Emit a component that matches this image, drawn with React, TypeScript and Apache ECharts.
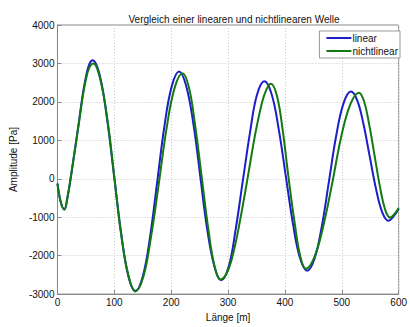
import React, { useEffect, useRef } from "react";
import * as echarts from "echarts";

const titleText = "Vergleich einer linearen und nichtlinearen Welle";
const xName = "Länge [m]";
const yName = "Amplitude [Pa]";
const seriesNames = ["linear", "nichtlinear"];

const linearX = [0, 6, 12, 18, 23, 30, 37, 44, 50, 56, 62, 74.5, 87, 99.5, 112, 124.5, 137, 150, 163, 175.5, 188, 201, 214, 226, 239, 251, 263, 276, 288, 301, 313, 326, 339, 351, 364, 376.5, 389, 401.5, 414, 426.5, 439, 452, 465, 477.5, 490, 503, 516, 527, 538, 549, 560, 571, 582, 591, 600];
const linearY = [-125, -620, -800, -450, 0, 700, 1400, 2150, 2650, 2980, 3080, 2680, 1580, 80, -1420, -2520, -2920, -2540, -1490, -65, 1360, 2410, 2790, 2430, 1430, 75, -1280, -2280, -2640, -2290, -1350, -50, 1240, 2190, 2535, 2205, 1300, 70, -1160, -2060, -2390, -2080, -1225, -60, 1105, 1960, 2270, 2045, 1430, 590, -250, -865, -1090, -980, -780];

const nonlinX = [0, 6, 12, 18, 23, 30, 37, 44, 50, 56, 63, 75, 88, 100, 112, 125, 137, 151, 164.5, 178.5, 192, 206, 220, 231, 242, 253.5, 265, 276, 287, 300, 312, 324, 336, 348, 360, 368, 375.5, 386, 396, 406, 417, 427, 437, 452, 468, 484, 499, 515, 530, 539, 548, 557.5, 567, 576, 585, 592, 600];
const nonlinY = [-125, -620, -800, -450, 0, 680, 1380, 2100, 2580, 2890, 3000, 2600, 1520, 35, -1450, -2530, -2930, -2550, -1510, -92, 1326, 2365, 2745, 2386, 1404, 62, -1279, -2261, -2620, -2380, -1750, -850, 160, 1180, 2000, 2340, 2475, 2152, 1271, 68, -1136, -2018, -2340, -2033, -1195, -50, 1095, 1933, 2240, 2022, 1427, 615, -198, -793, -1010, -930, -760];

const FONT = "'Liberation Sans', Arial, sans-serif";

export default function App() {
  const ref = useRef<HTMLDivElement>(null);
  useEffect(() => {
    if (!ref.current) return;
    const chart = echarts.init(ref.current, undefined, { renderer: "svg" });
    const pairs = (xs: number[], ys: number[]) => xs.map((x, i) => [x, ys[i]]);
    chart.setOption({
      animation: false,
      backgroundColor: "#ffffff",
      textStyle: { fontFamily: FONT },
      title: {
        text: titleText,
        left: 229,
        textAlign: "center",
        top: 9,
        textStyle: { fontSize: 10, fontWeight: "normal", color: "#111", fontFamily: FONT },
      },
      legend: {
        data: seriesNames,
        orient: "vertical",
        right: 10,
        top: 31,
        padding: [2, 2, 2, 6],
        itemGap: 3,
        itemWidth: 25,
        itemHeight: 10,
        itemStyle: { opacity: 0 },
        backgroundColor: "#ffffff",
        borderColor: "#999",
        borderWidth: 1,
        textStyle: { fontSize: 10, color: "#111", fontFamily: FONT, padding: [0, 0, 0, -4] },
      },
      grid: {
        left: 53,
        right: 6,
        top: 25,
        bottom: 24,
        show: true,
        borderColor: "#888",
        borderWidth: 1,
      },
      xAxis: {
        type: "value",
        min: 0,
        max: 600,
        interval: 100,
        name: xName,
        nameLocation: "middle",
        nameGap: 12,
        nameTextStyle: { fontSize: 10, color: "#111", fontFamily: FONT },
        axisLine: { show: true, onZero: false, lineStyle: { color: "#888" } },
        axisTick: { show: true, inside: true, length: 4, lineStyle: { color: "#888" } },
        axisLabel: { fontSize: 10, color: "#111", margin: 3, fontFamily: FONT, formatter: (v: number) => String(v) },
        splitLine: { show: true, lineStyle: { color: "#c8c8c8", type: [1, 2] } },
      },
      yAxis: {
        type: "value",
        min: -3000,
        max: 4000,
        interval: 1000,
        name: yName,
        nameLocation: "middle",
        nameGap: 30,
        nameTextStyle: { fontSize: 10, color: "#111", fontFamily: FONT },
        axisLine: { show: true, onZero: false, lineStyle: { color: "#888" } },
        axisTick: { show: true, inside: true, length: 4, lineStyle: { color: "#888" } },
        axisLabel: { fontSize: 10, color: "#111", margin: 3, fontFamily: FONT, formatter: (v: number) => String(v) },
        splitLine: { show: true, lineStyle: { color: "#c8c8c8", type: [1, 2] } },
      },
      series: [
        {
          name: seriesNames[0],
          type: "line",
          data: pairs(linearX, linearY),
          smooth: 0.4,
          symbol: "none",
          lineStyle: { color: "#1e1ec8", width: 2 },
          itemStyle: { color: "#1e1ec8" },
        },
        {
          name: seriesNames[1],
          type: "line",
          data: pairs(nonlinX, nonlinY),
          smooth: 0.4,
          symbol: "none",
          lineStyle: { color: "#117a11", width: 2 },
          itemStyle: { color: "#117a11" },
        },
      ],
    });
    return () => chart.dispose();
  }, []);
  return (
    <div
      ref={ref}
      style={{ position: "fixed", left: 0, top: 0, width: 410, height: 327 }}
    />
  );
}
